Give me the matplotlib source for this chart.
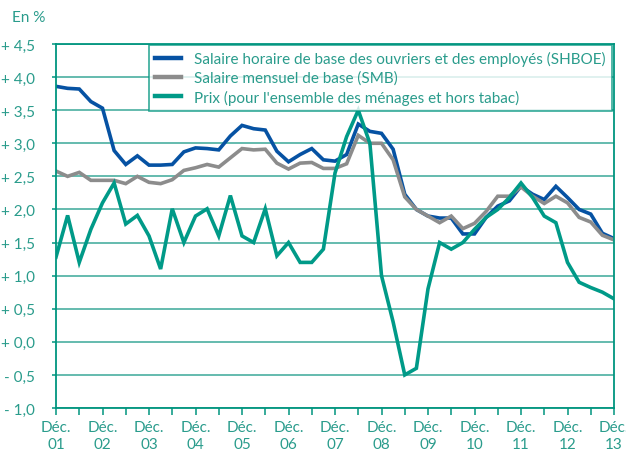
import numpy as np
import matplotlib
matplotlib.use("Agg")
import matplotlib.pyplot as plt
from matplotlib.ticker import FixedLocator

plt.rcParams['font.family'] = ['Lato', 'DejaVu Sans']

# quarterly values, Dec 2001 .. Dec 2013
years = ['01', '02', '03', '04', '05', '06', '07', '08', '09', '10', '11', '12', '13']

shboe = [3.86, 3.83, 3.82, 3.63, 3.53, 2.89, 2.68, 2.81, 2.67, 2.67, 2.68, 2.87, 2.93,
         2.92, 2.90, 3.11, 3.27, 3.22, 3.20, 2.88, 2.72, 2.83, 2.92, 2.75, 2.73, 2.83,
         3.29, 3.18, 3.15, 2.91, 2.23, 2.00, 1.90, 1.87, 1.87, 1.63, 1.63, 1.88, 2.05,
         2.13, 2.35, 2.23, 2.15, 2.35, 2.18, 2.00, 1.93, 1.64, 1.56]

smb = [2.58, 2.50, 2.56, 2.44, 2.44, 2.44, 2.39, 2.50, 2.41, 2.39, 2.45, 2.59, 2.63,
       2.68, 2.64, 2.78, 2.92, 2.90, 2.91, 2.70, 2.61, 2.70, 2.71, 2.62, 2.62, 2.69,
       3.12, 3.00, 3.00, 2.75, 2.19, 2.00, 1.90, 1.80, 1.90, 1.71, 1.79, 1.97, 2.20,
       2.20, 2.34, 2.20, 2.09, 2.20, 2.10, 1.88, 1.81, 1.61, 1.54]

prix = [1.28, 1.91, 1.20, 1.70, 2.10, 2.40, 1.78, 1.91, 1.60, 1.10, 2.01, 1.50, 1.90,
        2.01, 1.60, 2.21, 1.60, 1.50, 2.01, 1.30, 1.50, 1.20, 1.20, 1.40, 2.55, 3.10,
        3.50, 3.00, 1.00, 0.30, -0.50, -0.40, 0.80, 1.50, 1.40, 1.50, 1.70, 1.88, 2.00,
        2.18, 2.40, 2.18, 1.90, 1.80, 1.20, 0.90, 0.82, 0.75, 0.65]

labels = ['Salaire horaire de base des ouvriers et des employés (SHBOE)',
          'Salaire mensuel de base (SMB)',
          "Prix (pour l'ensemble des ménages et hors tabac)"]

teal = '#00957f'
grid_c = '#3aa898'
txt_c = '#2a9c8c'

x = np.arange(len(shboe))

fig = plt.figure(figsize=(6.26, 4.52), dpi=100)
ax = fig.add_axes([56/626, 1-409/452, 558/626, 364/452])

ax.plot(x, shboe, color='#0652a3', lw=2.6, label=labels[0], solid_joinstyle='miter')
ax.plot(x, smb, color='#8c8c8c', lw=2.6, label=labels[1], solid_joinstyle='miter')
ax.plot(x, prix, color='#009a88', lw=2.6, label=labels[2], solid_joinstyle='miter')

ax.set_xlim(0, 48)
ax.set_ylim(-1.0, 4.5)

yt = np.arange(-1.0, 4.51, 0.5)
ax.set_yticks(yt)
ax.set_yticklabels([('+ ' if v >= 0 else '- ') + f'{abs(v):.1f}'.replace('.', ',') for v in yt])
ax.grid(axis='y', color=grid_c, lw=1.1)
ax.set_axisbelow(True)

ax.xaxis.set_major_locator(FixedLocator(np.arange(0, 49, 4)))
ax.xaxis.set_minor_locator(FixedLocator(np.arange(2, 49, 4)))
ax.set_xticklabels(['Déc.\n' + y for y in years])

ax.tick_params(axis='x', which='both', length=5, width=1.1, color=teal,
               labelcolor=txt_c, labelsize=11, pad=4)
ax.tick_params(axis='y', length=3, width=1.1, color=teal, labelcolor=txt_c,
               labelsize=11, pad=12)
for s in ax.spines.values():
    s.set_color(teal)
    s.set_linewidth(1.3)

fig.text(12/626, 1-18/452, 'En %', color=txt_c, fontsize=11, va='center', ha='left')

leg = ax.legend(loc='upper right', bbox_to_anchor=(612/626, 1-46/452),
                bbox_transform=fig.transFigure, frameon=True, fancybox=False,
                fontsize=11, handlelength=1.7, handletextpad=0.85,
                labelspacing=0.3, borderpad=0.4, borderaxespad=0)
leg.get_frame().set_edgecolor(teal)
leg.get_frame().set_linewidth(1.2)
for t in leg.get_texts():
    t.set_color(txt_c)
for h in leg.get_lines():
    h.set_linewidth(3.2)

fig.savefig('out.png', dpi=100)
